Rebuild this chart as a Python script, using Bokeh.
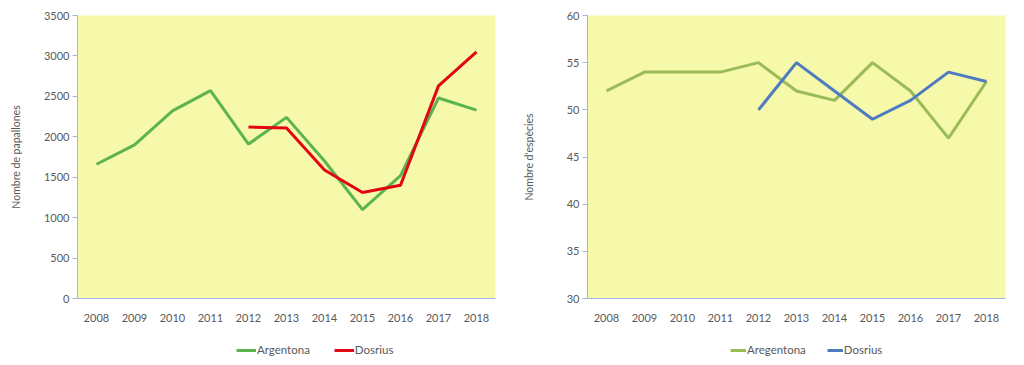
from bokeh.plotting import figure
from bokeh.models import FactorRange, Range1d, SingleIntervalTicker, Legend, LegendItem
from bokeh.layouts import row, column
from bokeh.embed import file_html
from bokeh.resources import INLINE

years = ["2008", "2009", "2010", "2011", "2012", "2013", "2014", "2015", "2016", "2017", "2018"]
butterflies_argentona = [1660, 1900, 2320, 2570, 1910, 2240, 1700, 1100, 1520, 2480, 2330]
dosrius_years = ["2012", "2013", "2014", "2015", "2016", "2017", "2018"]
butterflies_dosrius = [2120, 2110, 1590, 1310, 1400, 2630, 3050]
species_argentona = [52, 54, 54, 54, 55, 52, 51, 55, 52, 47, 53]
species_dosrius = [50, 55, 52, 49, 51, 54, 53]

FONT = "Lato"
TXT = "#595959"
AXC = "#A3B5DF"
BG = "#F6F9A9"
C_ARG1, C_DOS1 = "#5BB450", "#E30613"
C_ARG2, C_DOS2 = "#9BBB59", "#4F7BC1"
NAN = float("nan")


def make_fig(left, right, ymin, ymax, step, ylabel, label_standoff):
    p = figure(width=512, height=330, x_range=FactorRange(*years),
               y_range=Range1d(ymin, ymax), output_backend="svg",
               toolbar_location=None, min_border_left=left, min_border_right=right,
               min_border_top=15, min_border_bottom=32)
    p.background_fill_color = BG
    p.border_fill_color = "white"
    p.outline_line_color = None
    p.grid.visible = False
    p.yaxis.ticker = SingleIntervalTicker(interval=step)
    for ax in (p.xaxis[0], p.yaxis[0]):
        ax.axis_line_color = AXC
        ax.axis_line_width = 1
        ax.major_label_text_font = FONT
        ax.major_label_text_color = TXT
        ax.major_label_text_font_size = "11px"
        ax.minor_tick_line_color = None
    p.xaxis.major_tick_line_color = None
    p.xaxis.major_label_standoff = 9
    p.yaxis.major_tick_line_color = AXC
    p.yaxis.major_tick_out = 5
    p.yaxis.major_tick_in = 0
    p.yaxis.major_label_standoff = 3
    p.yaxis.axis_label = ylabel
    p.yaxis.axis_label_text_font = FONT
    p.yaxis.axis_label_text_font_style = "normal"
    p.yaxis.axis_label_text_font_size = "10.5px"
    p.yaxis.axis_label_text_color = TXT
    p.yaxis.axis_label_standoff = label_standoff
    return p


def legend_fig(entries, x, glyph_w, spacing):
    f = figure(width=512, height=35, x_range=Range1d(0, 1), y_range=Range1d(0, 1),
               output_backend="svg", toolbar_location=None, min_border=0)
    f.axis.visible = False
    f.grid.visible = False
    f.outline_line_color = None
    f.background_fill_color = "white"
    f.border_fill_color = "white"
    items = []
    for label, color in entries:
        # legend-only renderer: no visible data
        r = f.line(x=[NAN], y=[NAN], line_color=color, line_width=3)
        items.append(LegendItem(label=label, renderers=[r]))
    lg = Legend(items=items, location=(x, 9), orientation="horizontal",
                glyph_width=glyph_w, glyph_height=12, label_standoff=1,
                spacing=spacing, padding=0, margin=0,
                border_line_color=None, background_fill_alpha=0,
                label_text_font=FONT, label_text_font_size="11.5px",
                label_text_color=TXT)
    f.add_layout(lg, "center")
    return f


p1 = make_fig(77, 17, 0, 3500, 500, "Nombre de papallones", 19)
p1.line(years, butterflies_argentona, line_color=C_ARG1, line_width=3)
p1.line(dosrius_years, butterflies_dosrius, line_color=C_DOS1, line_width=3)
l1 = legend_fig([("Argentona", C_ARG1), ("Dosrius", C_DOS1)], 236, 20, 24)

p2 = make_fig(75, 19, 30, 60, 5, "Nombre d'espècies", 29)
p2.line(years, species_argentona, line_color=C_ARG2, line_width=3)
p2.line(dosrius_years, species_dosrius, line_color=C_DOS2, line_width=3)
l2 = legend_fig([("Aregentona", C_ARG2), ("Dosrius", C_DOS2)], 218, 16, 21)

layout = column(row(p1, p2), row(l1, l2))
open("out.html", "w").write(file_html(layout, INLINE))
